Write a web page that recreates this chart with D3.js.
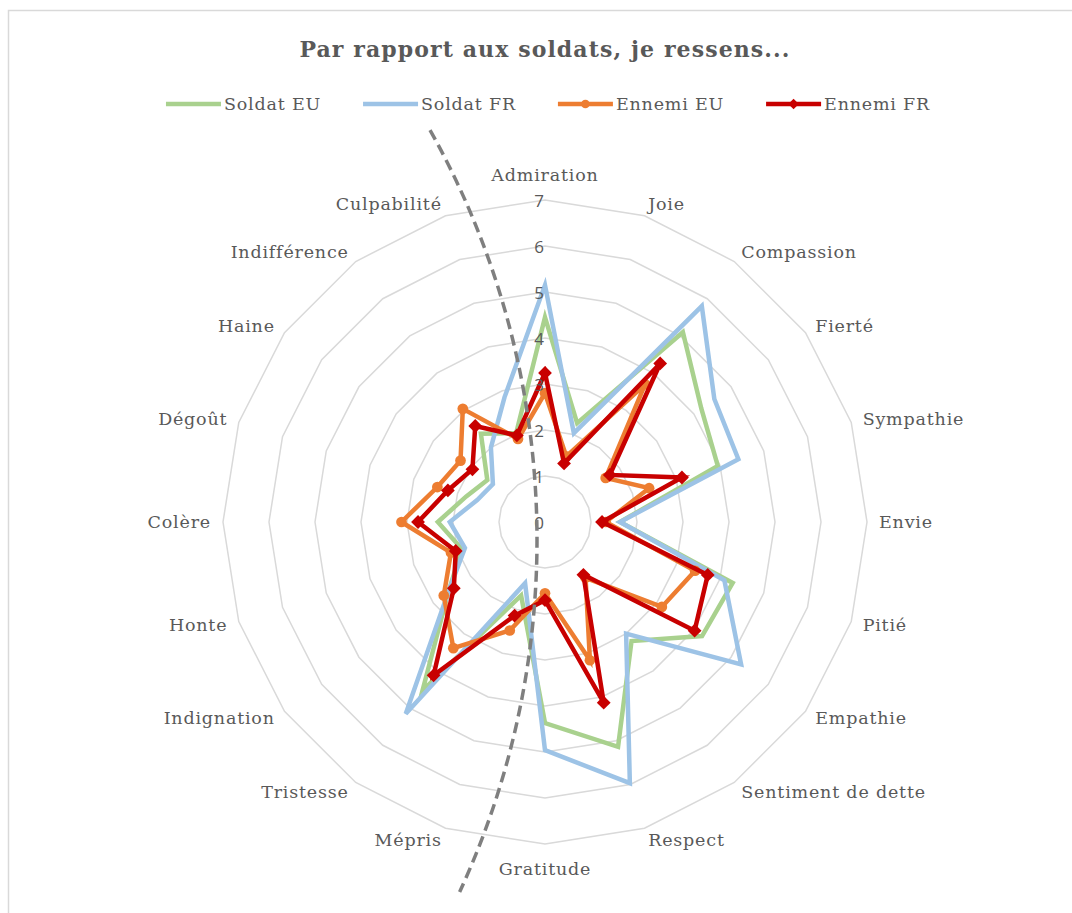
<!DOCTYPE html>
<html>
<head>
<meta charset="utf-8">
<script src="https://cdn.jsdelivr.net/npm/d3@7"></script>
<style>
  body { margin: 0; background: #fff; }
  svg text { fill: #595959; }
  .lbl { font-family: "DejaVu Serif", serif; font-size: 17.5px; letter-spacing: 0.8px; }
  .tick { font-family: "Open Sans", "Noto Sans", sans-serif; font-size: 17px; }
  .title { font-family: "DejaVu Serif", serif; font-size: 22px; font-weight: bold; letter-spacing: 1.1px; }
</style>
</head>
<body>
<svg id="chart" width="1072" height="913"></svg>
<script>
// Data
const categories = ['Admiration', 'Joie', 'Compassion', 'Fierté', 'Sympathie', 'Envie', 'Pitié', 'Empathie',
  'Sentiment de dette', 'Respect', 'Gratitude', 'Mépris', 'Tristesse', 'Indignation', 'Honte', 'Colère',
  'Dégoût', 'Haine', 'Indifférence', 'Culpabilité']
const soldatEU = [4.45, 2.26, 5.1, 4.2, 3.95, 1.63, 4.29, 4.22, 3.2, 5.14, 4.37, 1.68, 4.53, 2.6, 1.9, 2.33, 1.8, 1.55, 2.37, 2.03]
const soldatFR = [5.15, 2.03, 5.8, 4.55, 4.42, 1.63, 4.1, 5.27, 3.0, 5.97, 4.96, 1.4, 5.15, 2.6, 1.83, 2.07, 1.55, 1.4, 2.0, 2.85]
const ennemiEU = [2.8, 1.5, 3.7, 1.63, 2.38, 1.32, 3.43, 3.14, 1.5, 3.16, 1.55, 2.48, 3.39, 2.72, 2.15, 3.12, 2.46, 2.27, 3.04, 1.9]
const ennemiFR = [3.24, 1.34, 4.26, 1.74, 3.13, 1.24, 3.72, 4.02, 1.42, 4.13, 1.7, 2.14, 4.12, 2.45, 2.04, 2.76, 2.22, 1.95, 2.58, 1.98]
const ticks = [0, 1, 2, 3, 4, 5, 6, 7]

const series = [
  {name: 'Soldat EU', values: soldatEU, color: '#A9D18E', marker: null},
  {name: 'Soldat FR', values: soldatFR, color: '#9DC3E6', marker: null},
  {name: 'Ennemi EU', values: ennemiEU, color: '#ED7D31', marker: 'circle'},
  {name: 'Ennemi FR', values: ennemiFR, color: '#C80000', marker: 'diamond'},
]

const W = 1072, H = 913
const cx = 545, cy = 522
const svg = d3.select('#chart')

// frame
svg.append('rect').attr('x', 8.5).attr('y', 10.5).attr('width', W + 20).attr('height', H + 20)
  .attr('fill', 'none').attr('stroke', '#d9d9d9').attr('stroke-width', 1.5)

const g = svg.append('g').attr('transform', `translate(${cx},${cy})`)
const r = d3.scaleLinear().domain([0, 7]).range([0, 322])
const angle = d3.scaleLinear().domain([0, categories.length]).range([0, 2 * Math.PI])

const radial = d3.lineRadial()
  .angle((d, i) => angle(i))
  .radius(d => r(d))
  .curve(d3.curveLinearClosed)

/* Gridlines */
g.selectAll('.grid').data(ticks.filter(t => t > 0)).enter()
  .append('path')
  .attr('d', t => radial(categories.map(() => t)))
  .attr('fill', 'none').attr('stroke', '#d9d9d9').attr('stroke-width', 1.5)

/* Series */
series.forEach(s => {
  g.append('path')
    .attr('d', radial(s.values))
    .attr('fill', 'none').attr('stroke', s.color)
    .attr('stroke-width', 4.5).attr('stroke-linejoin', 'miter')
  if (!s.marker) return
  const sym = s.marker === 'circle' ? d3.symbol(d3.symbolCircle, 90) : d3.symbol(d3.symbolSquare, 95)
  g.selectAll(null).data(s.values).enter()
    .append('path')
    .attr('d', sym)
    .attr('fill', s.color)
    .attr('transform', (d, i) => {
      const a = angle(i)
      return `translate(${r(d) * Math.sin(a)},${-r(d) * Math.cos(a)})` + (s.marker === 'diamond' ? ' rotate(45)' : '')
    })
})

/* Tick labels */
g.selectAll('.tick').data(ticks).enter()
  .append('text')
  .attr('class', 'tick')
  .attr('x', -1)
  .attr('y', d => -r(d))
  .attr('text-anchor', 'end')
  .attr('dominant-baseline', 'central')
  .text(d => d)

/* Category labels */
const labelR = 334
g.selectAll('.lbl').data(categories).enter()
  .append('text')
  .attr('class', 'lbl')
  .attr('x', (d, i) => labelR * Math.sin(angle(i)))
  .attr('y', (d, i) => {
    const c = Math.cos(angle(i))
    return -labelR * c - (Math.abs(c) > 0.99 ? 13 * Math.sign(c) : 0)
  })
  .attr('text-anchor', (d, i) => {
    const s = Math.sin(angle(i))
    return Math.abs(s) < 0.01 ? 'middle' : s > 0 ? 'start' : 'end'
  })
  .attr('dominant-baseline', 'central')
  .text(d => d)

/* Dashed arc annotation */
const arcR = 839, arcCx = cx - 847, arcCy = cy + 18
const p = d3.path()
const a0 = -29.25 * Math.PI / 180, a1 = 24.8 * Math.PI / 180
p.moveTo(arcCx + arcR * Math.cos(a0), arcCy + arcR * Math.sin(a0))
p.arc(arcCx, arcCy, arcR, a0, a1)
svg.append('path').attr('d', p.toString())
  .attr('fill', 'none').attr('stroke', '#7f7f7f').attr('stroke-width', 3.5)
  .attr('stroke-dasharray', '11,6')

/* Title */
svg.append('text').attr('class', 'title')
  .attr('x', 545).attr('y', 49)
  .attr('text-anchor', 'middle').attr('dominant-baseline', 'central')
  .text('Par rapport aux soldats, je ressens...')

/* Legend */
const leg = svg.append('g')
const items = leg.selectAll('g').data(series).enter().append('g')
items.append('text').attr('class', 'lbl')
  .attr('dominant-baseline', 'central').attr('y', 0)
  .text(d => d.name)
let x = 0
items.each(function(d) {
  const w = this.querySelector('text').getComputedTextLength()
  const it = d3.select(this)
  it.insert('line', 'text').attr('x1', x).attr('x2', x + 55).attr('y1', 0).attr('y2', 0)
    .attr('stroke', d.color).attr('stroke-width', 4.5)
  if (d.marker) {
    const sym = d.marker === 'circle' ? d3.symbol(d3.symbolCircle, 60) : d3.symbol(d3.symbolSquare, 55)
    it.insert('path', 'text').attr('d', sym).attr('fill', d.color)
      .attr('transform', `translate(${x + 27.5},0)` + (d.marker === 'diamond' ? ' rotate(45)' : ''))
  }
  it.select('text').attr('x', x + 58)
  x += 58 + w + 42
})
const legW = x - 42
leg.attr('transform', `translate(${548 - legW / 2},104)`)
</script>
</body>
</html>
